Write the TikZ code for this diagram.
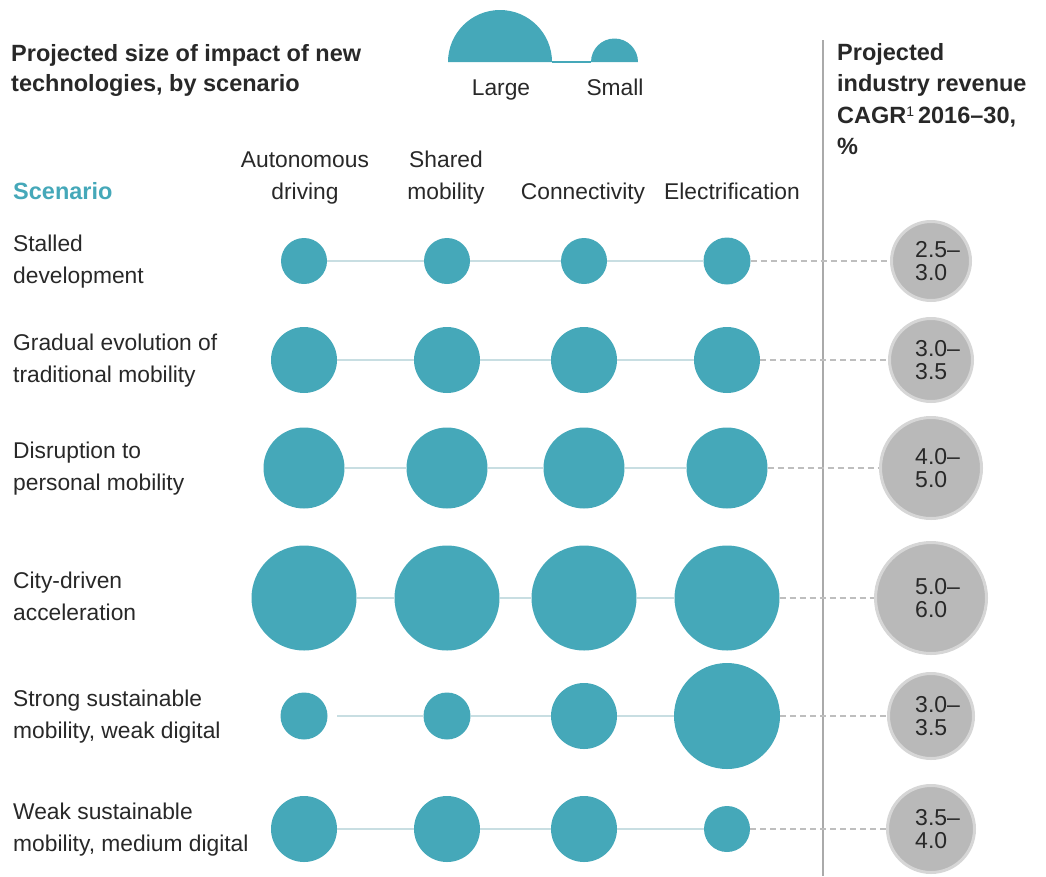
\documentclass[tikz,border=0pt]{standalone}
\usepackage{fontspec}
\setmainfont{Liberation Sans}
\definecolor{teal1}{RGB}{69,168,185}
\definecolor{txt}{RGB}{40,40,40}
\definecolor{conn}{RGB}{200,222,226}
\definecolor{dash1}{RGB}{190,190,190}
\definecolor{greyfill}{RGB}{185,185,185}
\definecolor{greyring}{RGB}{214,214,214}
\definecolor{vline}{RGB}{170,170,170}
\begin{document}
\begin{tikzpicture}[x=1pt,y=-1pt,
  lbl/.style={anchor=base west, inner sep=0pt, text=txt, font=\fontsize{22.8}{27}\selectfont},
  hdr/.style={anchor=base west, inner sep=0pt, text=txt, font=\fontsize{23.5}{28}\selectfont\bfseries},
  colhd/.style={anchor=base, inner sep=0pt, text=txt, font=\fontsize{22.8}{27}\selectfont},
  dot/.style={circle, fill=teal1, inner sep=0pt, minimum size=#1},
  gdot/.style={circle, fill=greyfill, draw=greyring, line width=3pt, inner sep=0pt, minimum size=#1},
  gnum/.style={anchor=west, inner sep=0pt, align=left, text=txt, font=\fontsize{23}{23}\selectfont},
  link/.style={draw=conn, line width=1.5pt},
  dlink/.style={draw=dash1, line width=1.3pt, dash pattern=on 6pt off 4pt},
]
\useasboundingbox (0,0) rectangle (1046,876);

% title
\node[hdr] (t1) at (11,61) {Projected size of impact of new};
\node[hdr] (t2) at (11,91) {technologies, by scenario};

% legend
\coordinate (lgL) at (448,62);
\coordinate (lgLe) at (552,62);
\coordinate (lgS) at (591,62);
\coordinate (lgSe) at (638,62);
\fill[teal1] (lgL) arc[start angle=180, end angle=0, radius=52pt] -- cycle;
\fill[teal1] (lgS) arc[start angle=180, end angle=0, radius=23.5pt] -- cycle;
\draw[teal1, line width=1.2pt] (lgLe) -- (lgS);
\node[colhd] (lgLt) at (501,95) {Large};
\node[colhd] (lgSt) at (615,95) {Small};

% right header
\node[hdr] (r1) at (837,60) {Projected};
\node[hdr] (r2) at (837,91) {industry revenue};
\node[hdr] (r3) at (837,123) {CAGR\raisebox{7pt}{\normalfont\fontsize{14}{14}\selectfont 1}\,2016–30,};
\node[hdr] (r4) at (837,154) {\%};

% column headers
\node[colhd] (h1a) at (305,167) {Autonomous};
\node[colhd] (h1b) at (305,199) {driving};
\node[colhd] (h2a) at (446,167) {Shared};
\node[colhd] (h2b) at (446,199) {mobility};
\node[colhd] (h3) at (583,199) {Connectivity};
\node[colhd] (h4) at (732,199) {Electrification};
\node[hdr, text=teal1] (sc) at (13,199) {Scenario};

% divider
\coordinate (vtop) at (823,40);
\coordinate (vbot) at (823,876);
\draw[vline, line width=2pt] (vtop) -- (vbot);

% rows
\foreach \i/\y/\ra/\rb/\rc/\rd/\rg/\la/\lb/\na/\nb in {
  1/261/46/46/46/47/82/{Stalled}/{development}/{2.5–}/{3.0},
  2/360/66/66/66/66/86/{Gradual evolution of}/{traditional mobility}/{3.0–}/{3.5},
  3/468/81/81/81/81/104/{Disruption to}/{personal mobility}/{4.0–}/{5.0},
  4/598/105/105/105/105/114/{City-driven}/{acceleration}/{5.0–}/{6.0},
  5/716/47/47/66/106/88/{Strong sustainable}/{mobility, weak digital}/{3.0–}/{3.5},
  6/829/66/66/66/46/90/{Weak sustainable}/{mobility, medium digital}/{3.5–}/{4.0}}
{
  \node[lbl] (la\i) at (13,\y-10) {\la};
  \node[lbl] (lb\i) at (13,\y+22) {\lb};
  \node[dot=\ra pt] (a\i) at (304,\y) {};
  \node[dot=\rb pt] (b\i) at (447,\y) {};
  \node[dot=\rc pt] (c\i) at (584,\y) {};
  \node[dot=\rd pt] (d\i) at (727,\y) {};
  \pgfmathsetmacro{\gs}{\rg-3}
  \node[gdot=\gs pt] (g\i) at (931,\y) {};
  \node[gnum] (n\i) at (915,\y) {\na\\\nb};
  \draw[dlink] (d\i) -- (g\i);
}

\draw[link] (a1) -- (b1) -- (c1) -- (d1);
\draw[link] (a2) -- (b2) -- (c2) -- (d2);
\draw[link] (a3) -- (b3) -- (c3) -- (d3);
\draw[link] (a4) -- (b4) -- (c4) -- (d4);
\coordinate (s5) at (337,716);
\draw[link] (s5) -- (b5) -- (c5) -- (d5);
\draw[link] (a6) -- (b6) -- (c6) -- (d6);
\end{tikzpicture}
\end{document}
